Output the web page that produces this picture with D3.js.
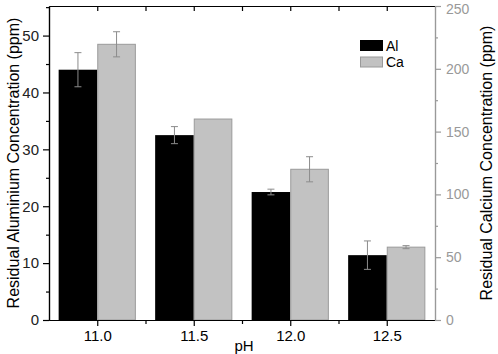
<!DOCTYPE html>
<html>
<head>
<meta charset="utf-8">
<script src="https://cdn.jsdelivr.net/npm/d3@7"></script>
<style>
  body { margin: 0; background: #fff; }
  svg { display: block; font-family: "Liberation Sans", Arial, sans-serif; }
</style>
</head>
<body>
<div id="chart"></div>
<script>
const phValues = [11.0, 11.5, 12.0, 12.5]
const alValues = [44.0, 32.5, 22.5, 11.4]
const alErrors = [3.0, 1.5, 0.5, 2.5]
const caValues = [219.5, 160, 120, 58]
const caErrors = [10, 0, 10, 1.2]
const leftTicks = [0, 10, 20, 30, 40, 50]
const rightTicks = [0, 50, 100, 150, 200, 250]

const width = 498, height = 354
const margin = { top: 6, right: 63, bottom: 34, left: 49 }
const innerW = width - margin.left - margin.right
const innerH = height - margin.top - margin.bottom

const svg = d3.select("#chart").append("svg")
  .attr("width", width).attr("height", height)

const g = svg.append("g").attr("transform", `translate(${margin.left},${margin.top})`)

const x = d3.scaleLinear().domain([10.75, 12.75]).range([0, innerW])
const yL = d3.scaleLinear().domain([0, 55.2]).range([innerH, 0])
const yR = d3.scaleLinear().domain([0, 250]).range([innerH, 0])
const barW = x(11.2) - x(11.0)

const grey = "#999"

// Bars
const rows = phValues.map((p, i) => ({ p, al: alValues[i], ae: alErrors[i], ca: caValues[i], ce: caErrors[i] }))

g.selectAll("rect.al").data(rows).join("rect")
  .attr("x", d => x(d.p) - barW).attr("width", barW)
  .attr("y", d => yL(d.al)).attr("height", d => innerH - yL(d.al))
  .attr("fill", "#000")

g.selectAll("rect.ca").data(rows).join("rect")
  .attr("x", d => x(d.p) + 0.5).attr("width", barW - 1)
  .attr("y", d => yR(d.ca)).attr("height", d => innerH - yR(d.ca))
  .attr("fill", "#c2c2c2").attr("stroke", "#9a9a9a").attr("stroke-width", 1)

// Error bars
function errBars(data, cx, ys, v, e) {
  const eg = g.append("g").attr("stroke", "#8c8c8c").attr("stroke-width", 1)
  data.filter(d => e(d) > 0).forEach(d => {
    const c = cx(d)
    eg.append("line").attr("x1", c).attr("x2", c).attr("y1", ys(v(d) + e(d))).attr("y2", ys(v(d) - e(d)))
    eg.append("line").attr("x1", c - 3.5).attr("x2", c + 3.5).attr("y1", ys(v(d) + e(d))).attr("y2", ys(v(d) + e(d)))
    eg.append("line").attr("x1", c - 3.5).attr("x2", c + 3.5).attr("y1", ys(v(d) - e(d))).attr("y2", ys(v(d) - e(d)))
  })
}
errBars(rows, d => x(d.p) - barW / 2, yL, d => d.al, d => d.ae)
errBars(rows, d => x(d.p) + barW / 2, yR, d => d.ca, d => d.ce)

// Axes
const styleAxis = (sel, col, fs) => {
  sel.select(".domain").attr("stroke", col).attr("stroke-width", 1.2)
  sel.selectAll(".tick line").attr("stroke", col).attr("stroke-width", 1.2)
  sel.selectAll(".tick text").attr("fill", col).attr("font-size", fs || 15)
    .attr("font-family", "Liberation Sans, Arial, sans-serif")
}

// bottom
g.append("g").attr("transform", `translate(0,${innerH})`)
  .call(d3.axisBottom(x).tickValues([11.25, 11.75, 12.25]).tickSize(4).tickFormat("").tickSizeOuter(0))
  .call(s => styleAxis(s, "#000"))
g.append("g").attr("transform", `translate(0,${innerH})`)
  .call(d3.axisBottom(x).tickValues(phValues).tickSize(6).tickPadding(4).tickFormat(d3.format(".1f")).tickSizeOuter(0))
  .call(s => styleAxis(s, "#000"))
// top
g.append("g")
  .call(d3.axisBottom(x).tickValues([11.0, 11.25, 11.5, 11.75, 12.0, 12.25, 12.5]).tickSize(5).tickFormat("").tickSizeOuter(0))
  .call(s => styleAxis(s, "#000"))

// left
g.append("g")
  .call(d3.axisLeft(yL).tickValues([5, 15, 25, 35, 45, 55]).tickSize(3).tickFormat("").tickSizeOuter(0))
  .call(s => styleAxis(s, "#000"))
g.append("g")
  .call(d3.axisLeft(yL).tickValues(leftTicks).tickSize(6).tickPadding(4).tickSizeOuter(0))
  .call(s => styleAxis(s, "#000"))
  .call(s => s.selectAll(".tick text").attr("fill", "#222"))

// right
g.append("g").attr("transform", `translate(${innerW},0)`)
  .call(d3.axisRight(yR).tickValues([25, 75, 125, 175, 225]).tickSize(3).tickFormat("").tickSizeOuter(0))
  .call(s => styleAxis(s, grey, 14))
g.append("g").attr("transform", `translate(${innerW},0)`)
  .call(d3.axisRight(yR).tickValues(rightTicks).tickSize(6).tickPadding(5).tickSizeOuter(0))
  .call(s => styleAxis(s, grey, 14))
  .call(s => s.selectAll(".tick text").filter(d => d === 250).attr("dy", "0.5em"))

// Axis titles
svg.append("text").attr("transform", `translate(19,${margin.top + innerH / 2}) rotate(-90)`)
  .attr("text-anchor", "middle").attr("font-size", 16).attr("fill", "#000")
  .text("Residual Aluminium Concentration (ppm)")
svg.append("text").attr("transform", `translate(492,${margin.top + innerH / 2}) rotate(-90)`)
  .attr("text-anchor", "middle").attr("font-size", 16).attr("fill", "#000")
  .text("Residual Calcium Concentration (ppm)")
svg.append("text").attr("x", 244).attr("y", 351)
  .attr("text-anchor", "middle").attr("font-size", 15).attr("fill", "#000")
  .text("pH")

// Legend
const legend = [{ name: "Al", fill: "#000", stroke: "#000" }, { name: "Ca", fill: "#c2c2c2", stroke: "#9a9a9a" }]
const lg = svg.append("g").attr("transform", "translate(360,40)")
lg.selectAll("rect").data(legend).join("rect")
  .attr("x", 0.5).attr("y", (d, i) => i * 16.5 + 0.5).attr("width", 22).attr("height", 10)
  .attr("fill", d => d.fill).attr("stroke", d => d.stroke)
lg.selectAll("text").data(legend).join("text")
  .attr("x", 26).attr("y", (d, i) => i * 16.5 + 10.5)
  .attr("font-size", 14).attr("fill", "#000")
  .text(d => d.name)
</script>
</body>
</html>
